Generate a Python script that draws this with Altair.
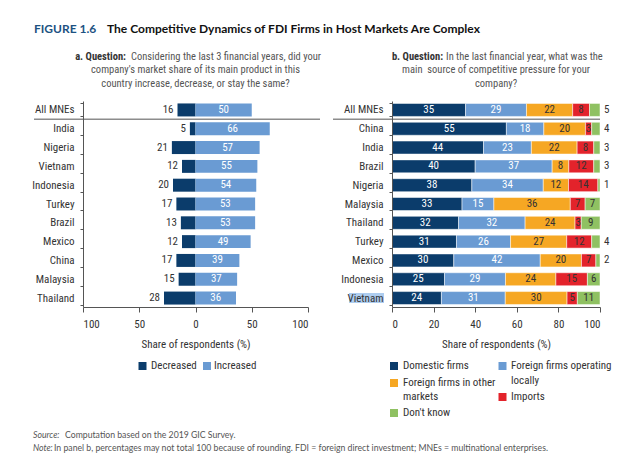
import altair as alt
import pandas as pd

# ---------------- data ----------------
countries_a = ["All MNEs", "India", "Nigeria", "Vietnam", "Indonesia", "Turkey",
               "Brazil", "Mexico", "China", "Malaysia", "Thailand"]
decreased = [16, 5, 21, 12, 20, 17, 13, 12, 17, 15, 28]
increased = [50, 66, 57, 55, 54, 53, 53, 49, 39, 37, 36]
kinds_a = ["Decreased", "Increased"]

countries_b = ["All MNEs", "China", "India", "Brazil", "Nigeria", "Malaysia",
               "Thailand", "Turkey", "Mexico", "Indonesia", "Vietnam"]
sources = ["Domestic firms", "Foreign firms operating locally",
           "Foreign firms in other markets", "Imports", "Don't know"]
domestic = [35, 55, 44, 40, 38, 33, 32, 31, 30, 25, 24]
foreign_local = [29, 18, 23, 37, 34, 15, 32, 26, 42, 29, 31]
foreign_other = [22, 20, 22, 8, 12, 36, 24, 27, 20, 24, 30]
imports = [8, 3, 8, 12, 14, 7, 3, 12, 7, 15, 5]
dont_know = [5, 4, 3, 3, 1, 7, 9, 4, 2, 6, 11]

ticks_a = [-100, -50, 0, 50, 100]
ticks_b = [0, 20, 40, 60, 80, 100]

fig_label = "FIGURE 1.6"
fig_title = "The Competitive Dynamics of FDI Firms in Host Markets Are Complex"
qa_bold = "a. Question:"
qa_lines = ["Considering the last 3 financial years, did your",
            "company's market share of its main product in this",
            "country increase, decrease, or stay the same?"]
qb_bold = "b. Question:"
qb_lines = ["In the last financial year, what was the",
            "main\u00a0 source of competitive pressure for your",
            "company?"]
axis_title = "Share of respondents (%)"
src_it, src_txt = "Source:", "Computation based on the 2019 GIC Survey."
note_it, note_txt = "Note:", ("In panel b, percentages may not total 100 because of rounding. "
                              "FDI = foreign direct investment; MNEs = multinational enterprises.")

# ---------------- style ----------------
FONT = "Liberation Sans Narrow, Roboto Condensed, Roboto, sans-serif"
TFONT = "Lato, Open Sans, sans-serif"
DARK, LIGHT = "#0b3c6b", "#6a9bd3"
colors_b = [DARK, LIGHT, "#f6a723", "#e3232b", "#8fc162"]
TXT = "#333333"
QTXT = "#555555"
AX = "#555555"
QS = 10.5
FS = 8.7

W_A, W_B, H = 225, 208, 206
one = pd.DataFrame({"a": [0]})


def txt(text, x, y, align="left", size=11, color=TXT, font=FONT, weight="normal",
        style="normal", baseline="middle"):
    return alt.Chart(one).mark_text(text=text, align=align, baseline=baseline,
                                    fontSize=size, color=color, font=font,
                                    fontWeight=weight, fontStyle=style).encode(
        x=alt.value(x), y=alt.value(y))


def square(color, x, y):
    return alt.Chart(one).mark_square(size=64, opacity=1, color=color).encode(
        x=alt.value(x), y=alt.value(y))


band = alt.Scale(paddingInner=0.31, paddingOuter=0.13)


def yaxis():
    return alt.Axis(title=None, tickBand="extent", tickSize=3, labelPadding=6,
                    domainColor=AX, tickColor=AX, labelColor=TXT, labelFont=FONT,
                    labelFontSize=11, zindex=1)


def xaxis(values, expr=None):
    kw = dict(values=values, title=axis_title, grid=False, tickSize=5, labelPadding=6,
              titlePadding=9, domainColor=AX, tickColor=AX, labelColor=TXT,
              labelFont=FONT, labelFontSize=11, titleFont=FONT, titleFontSize=11,
              titleFontWeight="normal", titleColor=TXT)
    if expr:
        kw["labelExpr"] = expr
    return alt.Axis(**kw)


# ---------------- panel a ----------------
rows = []
for c, d, i in zip(countries_a, decreased, increased):
    rows.append({"country": c, "kind": "Decreased", "x0": -d, "x1": 0, "val": d, "mid": -d / 2})
    rows.append({"country": c, "kind": "Increased", "x0": 0, "x1": i, "val": i, "mid": i / 2})
df_a = pd.DataFrame(rows)

xs_a = alt.Scale(domain=[-100, 100])
Ya = alt.Y("country:N", sort=countries_a, scale=band, axis=yaxis())

bars_a = alt.Chart(df_a).mark_bar().encode(
    y=Ya, x=alt.X("x0:Q", scale=xs_a, axis=xaxis(ticks_a, "abs(datum.value)")), x2="x1:Q",
    color=alt.Color("kind:N", scale=alt.Scale(domain=kinds_a, range=[DARK, LIGHT]), legend=None))
lab_dec = alt.Chart(df_a).transform_filter(alt.datum.kind == "Decreased").mark_text(
    align="right", dx=-4, font=FONT, fontSize=11, color=TXT).encode(
    y=Ya, x=alt.X("x0:Q", scale=xs_a), text="val:Q")
lab_inc = alt.Chart(df_a).transform_filter(alt.datum.kind == "Increased").mark_text(
    align="center", font=FONT, fontSize=11, color="white").encode(
    y=Ya, x=alt.X("mid:Q", scale=xs_a), text="val:Q")

sep_a = alt.Chart(one).mark_rule(color="#8c8c8c", strokeWidth=1.5).encode(
    x=alt.value(-49), x2=alt.value(237), y=alt.value(18.3))
anchor = alt.Chart(one).mark_rect(color="white").encode(
    x=alt.value(-83), x2=alt.value(-82), y=alt.value(-101), y2=alt.value(-100))

ann_a = [
    anchor,
    txt(fig_label, -49, -72, size=12, color="#1d5282", font=TFONT, weight="bold"),
    txt(fig_title, 24, -72, size=12, color="#111111", font=TFONT, weight="bold"),
    txt(qa_bold, 43, -44, align="right", weight="bold", color=TXT, size=QS),
    txt(qa_lines[0], 48, -44, color=QTXT, size=QS),
    txt(qa_lines[1], W_A / 2, -31, align="center", color=QTXT, size=QS),
    txt(qa_lines[2], W_A / 2, -17, align="center", color=QTXT, size=QS),
    square(DARK, 59.5, 265), txt(kinds_a[0], 68, 265),
    square(LIGHT, 124, 265), txt(kinds_a[1], 131, 265),
    txt(src_it, -50, 334, size=FS, color=QTXT, font=TFONT, style="italic"),
    txt(src_txt, -18, 334, size=FS, color=QTXT, font=TFONT),
    txt(note_it, -50, 347, size=FS, color=QTXT, font=TFONT, style="italic"),
    txt(note_txt, -29, 347, size=FS, color=QTXT, font=TFONT),
]

panel_a = alt.layer(bars_a, lab_dec, lab_inc, sep_a, *ann_a).properties(width=W_A, height=H)

# ---------------- panel b ----------------
rows = []
series = [domestic, foreign_local, foreign_other, imports, dont_know]
for k, c in enumerate(countries_b):
    vals = [s[k] for s in series]
    tot = sum(vals)
    start = 0.0
    for j, (src, v) in enumerate(zip(sources, vals)):
        share = v / tot * 100
        end = start + share
        inside = not (j == 4 and v < 6)
        rows.append({"country": c, "source": src, "val": v, "start": start, "end": end,
                     "mid": (start + end) / 2, "inside": inside,
                     "tcolor": "white" if j < 2 else TXT})
        start = end
df_b = pd.DataFrame(rows)

xs_b = alt.Scale(domain=[0, 100])
Yb = alt.Y("country:N", sort=countries_b, scale=band, axis=yaxis())

highlight = alt.Chart(one).mark_rect(color="#aecdef").encode(
    x=alt.value(-43), x2=alt.value(-8), y=alt.value(192), y2=alt.value(202))
bars_b = alt.Chart(df_b).mark_bar(stroke="white", strokeWidth=0.5).encode(
    y=Yb, x=alt.X("start:Q", scale=xs_b, axis=xaxis(ticks_b)), x2="end:Q",
    color=alt.Color("source:N", scale=alt.Scale(domain=sources, range=colors_b), legend=None))
lab_in = alt.Chart(df_b).transform_filter(alt.datum.inside).mark_text(
    align="center", font=FONT, fontSize=11).encode(
    y=Yb, x=alt.X("mid:Q", scale=xs_b), text="val:Q", color=alt.Color("tcolor:N", scale=None))
lab_out = alt.Chart(df_b).transform_filter(~alt.datum.inside).mark_text(
    align="left", dx=4, font=FONT, fontSize=11, color=TXT).encode(
    y=Yb, x=alt.X("end:Q", scale=xs_b), text="val:Q")
sep_b = alt.Chart(one).mark_rule(color="#8c8c8c", strokeWidth=1.5).encode(
    x=alt.value(-59), x2=alt.value(W_B), y=alt.value(18.3))

ann_b = [
    txt(qb_bold, 51, -44, align="right", weight="bold", color=TXT, size=QS),
    txt(qb_lines[0], 54, -44, color=QTXT, size=QS),
    txt(qb_lines[1], W_B / 2, -31, align="center", color=QTXT, size=QS),
    txt(qb_lines[2], W_B / 2, -17, align="center", color=QTXT, size=QS),
    square(colors_b[0], 2, 265), txt("Domestic firms", 11, 265),
    square(colors_b[1], 110.5, 265), txt("Foreign firms operating", 119, 265),
    txt("locally", 119, 280),
    square(colors_b[2], 2, 282), txt("Foreign firms in other", 11, 282),
    txt("markets", 11, 296),
    square(colors_b[3], 110.5, 296), txt("Imports", 119, 296),
    square(colors_b[4], 2, 312), txt("Don't know", 11, 312),
]

panel_b = alt.layer(highlight, bars_b, lab_in, lab_out, sep_b, *ann_b).properties(width=W_B, height=H)

chart = alt.hconcat(panel_a, panel_b, spacing=84, bounds="flush").resolve_scale(
    color="independent"
).properties(padding=0, background="white").configure_view(stroke=None)

chart.save("out.html", embed_options={"renderer": "svg", "actions": False})
